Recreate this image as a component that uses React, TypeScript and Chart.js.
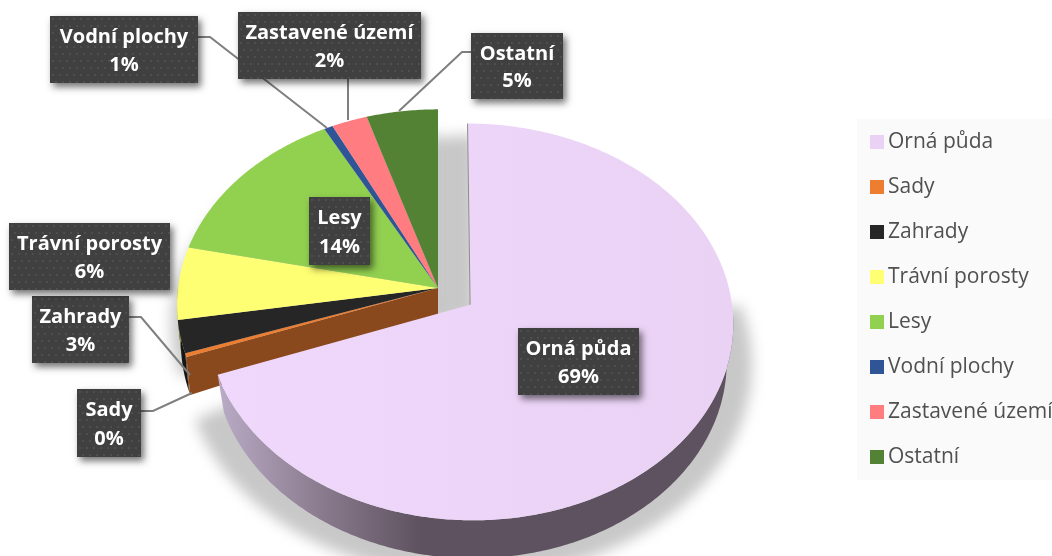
import React, { useEffect, useRef } from "react";
import { Chart, registerables } from "chart.js";

Chart.register(...registerables);

const categories = ["Orná půda", "Sady", "Zahrady", "Trávní porosty", "Lesy", "Vodní plochy", "Zastavené území", "Ostatní"];
const shares = [69.4, 0.3, 2.7, 6.0, 13.8, 0.6, 2.4, 4.8];
const sliceColors = ["#EAD2F5", "#ED7D31", "#262626", "#FFFF73", "#92D050", "#2F5597", "#FF7C80", "#548235"];
const explosion = [128, 0, 0, 0, 0, 0, 0, 0];

// Layout of the callouts (box rect + leader polyline), one per category.
const calloutLayout = [
  { box: [518, 328, 121, 67], leader: [] },
  { box: [77, 389, 64, 68], leader: [[141, 411], [153, 411], [192, 393]] },
  { box: [32, 296, 97, 67], leader: [[129, 317], [141, 317], [190, 375]] },
  { box: [9, 223, 161, 67], leader: [] },
  { box: [309, 197, 61, 68], leader: [] },
  { box: [50, 16, 148, 67], leader: [[198, 37], [210, 37], [327, 128]] },
  { box: [238, 12, 183, 67], leader: [[348, 79], [348, 120]] },
  { box: [471, 33, 92, 66], leader: [[471, 52], [462, 52], [399, 111]] },
];

// View of the tilted disc
const VIEW = { cx: 438, cy: 288, rx: 260, ry: 194, tilt: 0.086, depth: 38, apexDepth: 28 };
const FONT = '"Open Sans", "Noto Sans", sans-serif';

function project(u: number, v: number, scale = 1) {
  const p = 1 / (1 - VIEW.tilt * v);
  return [VIEW.cx + VIEW.rx * u * p * scale, VIEW.cy + VIEW.ry * v * p * scale];
}
function lower(u: number, v: number, scale = 1) {
  const [x, y] = project(u, v, scale);
  return [VIEW.cx + (x - VIEW.cx) * 0.985, y + VIEW.depth];
}
function shadowEdge(u: number, v: number, scale = 1) {
  const [x, y] = project(u, v, scale);
  return [x - 5, y + VIEW.depth];
}
function arcPoints(a0: number, a1: number, ou: number, ov: number, fn = project, scale = 1) {
  const n = Math.max(2, Math.ceil(Math.abs(a1 - a0) * 90));
  const pts: number[][] = [];
  for (let i = 0; i <= n; i++) {
    const a = a0 + ((a1 - a0) * i) / n;
    pts.push(fn(Math.cos(a) + ou, Math.sin(a) + ov, scale));
  }
  return pts;
}
function trace(ctx: CanvasRenderingContext2D, pts: number[][]) {
  ctx.beginPath();
  pts.forEach((p, i) => (i ? ctx.lineTo(p[0], p[1]) : ctx.moveTo(p[0], p[1])));
  ctx.closePath();
}
function darker(hex: string, f: number) {
  const n = parseInt(hex.slice(1), 16);
  return `rgb(${((n >> 16) & 255) * f},${((n >> 8) & 255) * f},${(n & 255) * f})`;
}
function dotPattern(ctx: CanvasRenderingContext2D) {
  const c = document.createElement("canvas");
  c.width = 14;
  c.height = 14;
  const g = c.getContext("2d")!;
  g.fillStyle = "#404040";
  g.fillRect(0, 0, 14, 14);
  g.fillStyle = "#4e4e4e";
  [[2, 2], [9, 2], [5, 9], [12, 9]].forEach(([x, y]) => g.fillRect(x, y, 2, 2));
  return ctx.createPattern(c, "repeat")!;
}

const tiltedPie = {
  id: "tiltedPie",
  beforeDatasetsDraw(chart: any) {
    const ctx: CanvasRenderingContext2D = chart.ctx;
    const arcs = chart.getDatasetMeta(0).data;
    const colors = chart.data.datasets[0].backgroundColor as string[];
    const first = arcs[0];
    const mid = (first.startAngle + first.endAngle) / 2;
    const off = (first.options.offset || 0) / 4 / first.outerRadius;
    const ou = Math.cos(mid) * off;
    const ov = Math.sin(mid) * off;
    const restStart = first.endAngle;
    const restEnd = arcs[arcs.length - 1].endAngle;

    // soft cast shadows
    ctx.save();
    ctx.filter = "blur(7px)";
    ctx.fillStyle = "#c8c8c8";
    const wedge = [project(0, 0), ...arcPoints(restStart, restEnd, 0, 0)];
    ctx.save();
    ctx.translate(38, 26);
    trace(ctx, wedge);
    ctx.fill();
    ctx.restore();
    ctx.save();
    ctx.translate(-6, 20);
    trace(ctx, wedge);
    ctx.fill();
    ctx.restore();
    const so = project(ou, ov);
    trace(ctx, [so, ...arcPoints(-0.18, first.endAngle, ou, ov, shadowEdge, 1.08)]);
    ctx.fill();
    ctx.restore();

    // cut face of the remaining disc, seen below its first edge
    const rimEdge = project(Math.cos(restStart), Math.sin(restStart));
    const rimEdgeLow = lower(Math.cos(restStart), Math.sin(restStart));
    ctx.fillStyle = darker(colors[1], 0.58);
    trace(ctx, [project(0, 0), rimEdge, rimEdgeLow, [VIEW.cx, VIEW.cy + VIEW.apexDepth]]);
    ctx.fill();

    // outer wall + top of the remaining slices
    for (let i = 1; i < arcs.length; i++) {
      const a = arcs[i];
      if (a.startAngle < Math.PI) {
        const end = Math.min(a.endAngle, Math.PI);
        ctx.fillStyle = darker(colors[i], 0.58);
        trace(ctx, [...arcPoints(a.startAngle, end, 0, 0), ...arcPoints(end, a.startAngle, 0, 0, lower)]);
        ctx.fill();
      }
    }
    for (let i = 1; i < arcs.length; i++) {
      const a = arcs[i];
      ctx.fillStyle = colors[i];
      trace(ctx, [project(0, 0), ...arcPoints(a.startAngle, a.endAngle, 0, 0)]);
      ctx.fill();
    }

    // exploded slice: wall then top
    const ap = project(ou, ov);
    const shrink = (u: number, v: number) => {
      const [x, y] = project(u, v);
      return [ap[0] + (x - ap[0]) * 0.975, y + VIEW.depth];
    };
    const wall = ctx.createLinearGradient(222, 0, 420, 0);
    wall.addColorStop(0, "#b8a9c4");
    wall.addColorStop(0.5, "#8a7b8e");
    wall.addColorStop(1, "#5f5260");
    ctx.fillStyle = wall;
    trace(ctx, [...arcPoints(0.05, first.endAngle, ou, ov), ...arcPoints(first.endAngle, 0.05, ou, ov, shrink as any)]);
    ctx.fill();
    const top = ctx.createLinearGradient(220, 0, 735, 0);
    top.addColorStop(0, "#f0d8fc");
    top.addColorStop(1, colors[0]);
    ctx.fillStyle = top;
    trace(ctx, [ap, ...arcPoints(first.startAngle, first.endAngle, ou, ov)]);
    ctx.fill();
    const tp = project(ou, ov - 1);
    ctx.strokeStyle = "#8d8d8d";
    ctx.lineWidth = 1;
    ctx.beginPath();
    ctx.moveTo(ap[0], ap[1]);
    ctx.lineTo(tp[0], tp[1]);
    ctx.stroke();
    return false;
  },
  afterDraw(chart: any) {
    const ctx: CanvasRenderingContext2D = chart.ctx;
    const labels = chart.data.labels as string[];
    const values = chart.data.datasets[0].data as number[];
    const colors = chart.data.datasets[0].backgroundColor as string[];

    // leaders
    ctx.save();
    ctx.strokeStyle = "#7f7f7f";
    ctx.lineWidth = 2;
    calloutLayout.forEach((c) => {
      if (!c.leader.length) return;
      ctx.beginPath();
      c.leader.forEach((p, i) => (i ? ctx.lineTo(p[0], p[1]) : ctx.moveTo(p[0], p[1])));
      ctx.stroke();
    });
    ctx.restore();

    // callouts
    const pattern = dotPattern(ctx);
    calloutLayout.forEach((c, i) => {
      const [x, y, w, h] = c.box;
      ctx.save();
      ctx.shadowColor = "rgba(0,0,0,0.55)";
      ctx.shadowBlur = 7;
      ctx.shadowOffsetX = 3;
      ctx.shadowOffsetY = 4;
      ctx.fillStyle = "#404040";
      ctx.fillRect(x, y, w, h);
      ctx.restore();
      ctx.save();
      ctx.translate(x, y);
      ctx.fillStyle = pattern;
      ctx.fillRect(0, 0, w, h);
      ctx.restore();
      ctx.fillStyle = "#ffffff";
      ctx.font = `bold 20px ${FONT}`;
      ctx.textAlign = "center";
      ctx.textBaseline = "middle";
      ctx.fillText(labels[i], x + w / 2, y + h * 0.3 + 1);
      ctx.fillText(`${Math.round(values[i])}%`, x + w / 2, y + h * 0.72 + 1);
    });

    // legend
    ctx.fillStyle = "#fafafa";
    ctx.fillRect(857, 119, 195, 361);
    ctx.font = `21px ${FONT}`;
    ctx.textAlign = "left";
    ctx.textBaseline = "middle";
    labels.forEach((t, i) => {
      const y = 142 + i * 45;
      ctx.fillStyle = colors[i];
      ctx.fillRect(870, y - 7, 14, 14);
      ctx.fillStyle = "#505050";
      ctx.fillText(t, 888, y);
    });
  },
};

export default function App() {
  const ref = useRef<HTMLCanvasElement>(null);
  useEffect(() => {
    const chart = new Chart(ref.current!, {
      type: "pie",
      data: {
        labels: categories,
        datasets: [{ data: shares, backgroundColor: sliceColors, offset: explosion, borderWidth: 0 }],
      },
      options: {
        responsive: false,
        animation: false,
        plugins: { legend: { display: false }, tooltip: { enabled: false } },
      },
      plugins: [tiltedPie],
    } as any);
    return () => chart.destroy();
  }, []);
  return (
    <canvas
      ref={ref}
      width={1052}
      height={556}
      style={{ position: "absolute", left: 0, top: 0, display: "block", width: 1052, height: 556, background: "#fff" }}
    />
  );
}
